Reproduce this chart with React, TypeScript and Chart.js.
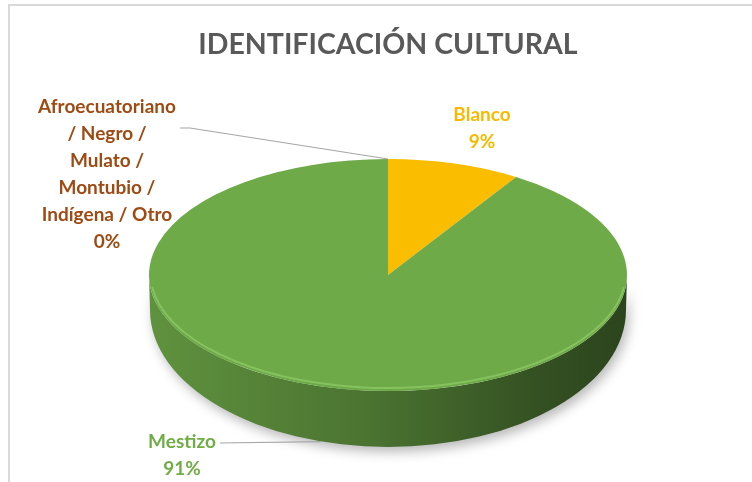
import React, { useEffect, useRef } from 'react';
import { Chart, registerables } from 'chart.js';

Chart.register(...registerables);

const chartTitle = 'IDENTIFICACIÓN CULTURAL';
const categories = ['Afroecuatoriano / Negro / Mulato / Montubio / Indígena / Otro', 'Blanco', 'Mestizo'];
const values = [0, 9, 91];
const sliceColors = ['#A0501A', '#FBBD00', '#6EAA48'];
const labelColors = ['#9E4A13', '#F7BA00', '#70AD47'];

function shade(hex: string, f: number) {
  const n = parseInt(hex.slice(1), 16);
  const r = Math.round(((n >> 16) & 255) * f);
  const g = Math.round(((n >> 8) & 255) * f);
  const b = Math.round((n & 255) * f);
  return `rgb(${r},${g},${b})`;
}

function wrap(ctx: CanvasRenderingContext2D, text: string, maxW: number) {
  const words = text.split(' ');
  const lines: string[] = [];
  let cur = '';
  for (const w of words) {
    const t = cur ? cur + ' ' + w : w;
    if (cur && ctx.measureText(t).width > maxW) {
      lines.push(cur);
      cur = w;
    } else cur = t;
  }
  if (cur) lines.push(cur);
  return lines;
}

const pie3d = {
  id: 'pie3d',
  beforeDraw(chart: any) {
    const ctx = chart.ctx;
    ctx.save();
    ctx.fillStyle = '#D9D9D9';
    ctx.fillRect(8, 4, chart.width - 8, 2);
    ctx.fillRect(8, 4, 2, chart.height - 4);
    ctx.restore();
  },
  beforeDatasetsDraw(chart: any, _args: any, opts: any) {
    const meta = chart.getDatasetMeta(0);
    const arcs = meta.data;
    if (!arcs.length) return;
    const { x: cx, y: cy, outerRadius: r } = arcs[0].getProps(['x', 'y', 'outerRadius'], true);
    const k = opts.tilt;
    const ry = r * k;
    const dE = opts.depthEdge;
    const ryb = ry + (opts.depthFront - dE);
    const ctx = chart.ctx;
    ctx.save();
    arcs.forEach((arc: any, i: number) => {
      const { startAngle, endAngle } = arc.getProps(['startAngle', 'endAngle'], true);
      const a0 = Math.max(startAngle, 0);
      const a1 = Math.min(endAngle, Math.PI);
      if (a1 <= a0) return;
      const base = chart.data.datasets[0].backgroundColor[i];
      const g = ctx.createLinearGradient(cx - r, 0, cx + r, 0);
      g.addColorStop(0, shade(base, 0.86));
      g.addColorStop(0.45, shade(base, 0.68));
      g.addColorStop(0.8, shade(base, 0.48));
      g.addColorStop(1, shade(base, 0.4));
      ctx.save();
      ctx.shadowColor = 'rgba(0,0,0,0.28)';
      ctx.shadowBlur = 12;
      ctx.shadowOffsetX = 3;
      ctx.shadowOffsetY = 5;
      ctx.beginPath();
      ctx.ellipse(cx, cy, r, ry, 0, a0, a1, false);
      ctx.ellipse(cx, cy + dE, r - 1, ryb, 0, a1, a0, true);
      ctx.closePath();
      ctx.fillStyle = g;
      ctx.fill();
      ctx.restore();
    });
    ctx.restore();
    ctx.save();
    ctx.translate(cx, cy);
    ctx.scale(1, k);
    ctx.translate(-cx, -cy);
  },
  afterDatasetsDraw(chart: any, _args: any, opts: any) {
    const ctx = chart.ctx;
    ctx.restore();
    const meta = chart.getDatasetMeta(0);
    const arcs = meta.data;
    if (!arcs.length) return;
    const { x: cx, y: cy, outerRadius: r } = arcs[0].getProps(['x', 'y', 'outerRadius'], true);
    const k = opts.tilt;
    const ry = r * k;
    const dE = opts.depthEdge;
    const ryb = ry + (opts.depthFront - dE);
    // rim highlight
    ctx.save();
    ctx.strokeStyle = 'rgba(150,210,110,0.6)';
    ctx.lineWidth = 2;
    ctx.beginPath();
    ctx.ellipse(cx, cy - 1.5, r - 1.5, ry - 1.5, 0, 0.12, Math.PI - 0.12);
    ctx.stroke();
    ctx.restore();

    const ds = chart.data.datasets[0];
    const total = ds.data.reduce((a: number, b: number) => a + b, 0);
    ctx.save();
    ctx.font = `bold ${opts.fontSize}px Lato, "Open Sans", sans-serif`;
    ctx.textAlign = 'center';
    ctx.textBaseline = 'middle';
    arcs.forEach((arc: any, i: number) => {
      const cfg = opts.labels[i];
      const { startAngle, endAngle } = arc.getProps(['startAngle', 'endAngle'], true);
      const mid = (startAngle + endAngle) / 2;
      const lines = wrap(ctx, chart.data.labels[i], opts.wrapWidth);
      lines.push(Math.round((ds.data[i] / total) * 100) + '%');
      if (cfg.leader) {
        const onFront = mid > 0 && mid < Math.PI;
        const ex = cx + r * Math.cos(mid);
        const ey = onFront ? cy + dE + ryb * Math.sin(mid) : cy + ry * Math.sin(mid);
        ctx.strokeStyle = '#A6A6A6';
        ctx.lineWidth = 1.2;
        ctx.beginPath();
        cfg.leader.forEach((p: number[], j: number) => (j ? ctx.lineTo(p[0], p[1]) : ctx.moveTo(p[0], p[1])));
        ctx.lineTo(ex, ey);
        ctx.stroke();
      }
      ctx.fillStyle = labelColors[i];
      lines.forEach((ln: string, j: number) => ctx.fillText(ln, cfg.x, cfg.y + j * opts.lineHeight));
    });
    ctx.restore();
  },
};

export default function App() {
  const ref = useRef<HTMLCanvasElement>(null);
  useEffect(() => {
    if (!ref.current) return;
    const chart = new Chart(ref.current, {
      type: 'pie',
      data: {
        labels: categories,
        datasets: [
          {
            data: values,
            backgroundColor: sliceColors,
            borderWidth: 0,
            clip: false as any,
          },
        ],
      },
      options: {
        responsive: false,
        animation: false,
        events: [],
        radius: 239,
        layout: { padding: { left: 24, right: 0, top: 0, bottom: 0 } },
        plugins: {
          legend: { display: false },
          tooltip: { enabled: false },
          title: {
            display: true,
            text: chartTitle,
            color: '#595959',
            font: { family: 'Lato, "Open Sans", sans-serif', size: 28.5, weight: 'bold', lineHeight: 1.2 },
            padding: { top: 27.9, bottom: 5.9 },
          },
          pie3d: {
            tilt: 116 / 239,
            depthEdge: 35,
            depthFront: 56,
            fontSize: 19,
            lineHeight: 27,
            wrapWidth: 132,
            labels: [
              { x: 107, y: 107, leader: [[180, 128], [190, 128]] },
              { x: 482, y: 115 },
              { x: 182, y: 442, leader: [[220, 443]] },
            ],
          },
        } as any,
      } as any,
      plugins: [pie3d],
    });
    return () => chart.destroy();
  }, []);
  return (
    <div style={{ position: 'absolute', left: 0, top: 0, width: 752, height: 482, background: '#fff', overflow: 'hidden' }}>
      <canvas ref={ref} width={752} height={482} style={{ display: 'block' }} />
    </div>
  );
}
